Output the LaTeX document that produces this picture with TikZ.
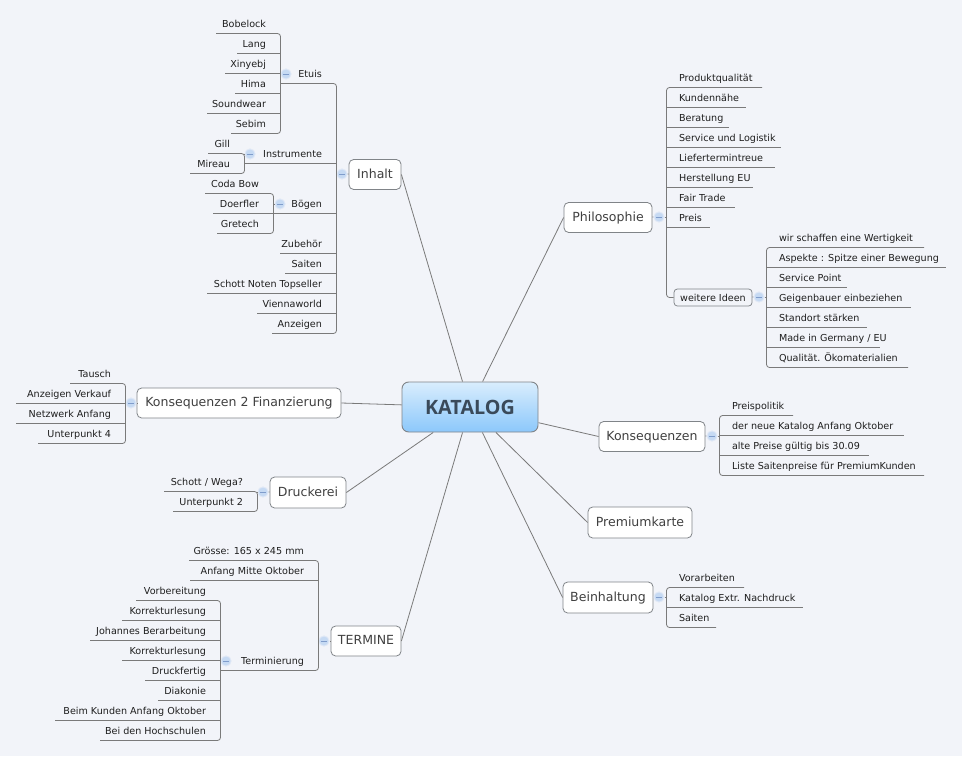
\documentclass[tikz,border=0pt]{standalone}
\usepackage{fontspec}
\setmainfont{DejaVu Sans}
\newfontfamily\capfont{Open Sans}
\definecolor{bgc}{HTML}{F2F4F9}
\definecolor{linec}{HTML}{7A7A7A}
\definecolor{txtc}{HTML}{1E1E1E}
\definecolor{boxc}{HTML}{808488}
\definecolor{icf}{HTML}{C6DAF3}
\definecolor{icr}{HTML}{DFE8F6}
\definecolor{icm}{HTML}{7F9CCB}
\definecolor{CentralTop}{HTML}{D9EDFD}
\definecolor{CentralBottom}{HTML}{8CC8FB}
\definecolor{CentralText}{HTML}{3A4A5A}
\newcommand\pxx[1]{#1*0.75pt}
\tikzset{
  conn/.style={draw=linec,line width=0.6pt,rounded corners=2.25pt},
  spoke/.style={draw=linec,line width=0.6pt},
  leaf/.style={font=\fontsize{7.2}{9}\selectfont,text=txtc,inner sep=0pt,outer sep=0pt},
  topic/.style={draw=boxc,line width=0.6pt,fill=white,rounded corners=3.5pt,font=\fontsize{9.4}{11}\selectfont,text=txtc!85!white,inner sep=0pt,text height=0.74em,text depth=0.2em},
  subtopic/.style={draw=boxc,line width=0.55pt,fill=bgc,rounded corners=2.5pt,font=\fontsize{7.2}{9}\selectfont,text=txtc,inner sep=0pt},
  central/.style={draw=boxc,line width=0.7pt,top color=CentralTop,bottom color=CentralBottom,rounded corners=5pt,font=\capfont\fontsize{14.8}{16}\bfseries\selectfont,text=CentralText,inner sep=0pt},
  icon/.style={circle,minimum size=7.6pt,inner sep=0pt,fill=icf,draw=icr,line width=0.7pt,
    path picture={\draw[icm,line width=0.4pt,shorten <=1.9pt,shorten >=1.9pt] (path picture bounding box.west) -- (path picture bounding box.east);}},
}
% icon name, icon x, y, spine name, spine x
\newcommand\iconat[5]{%
  \node[icon] (#1) at (#2,#3) {};
  \coordinate (#4) at ({#5+0.5},#3);
  \draw[conn] (#1) -- (#4);}
% id, text, spine, underline y, underline far x
\newcommand\leafl[5]{%
  \coordinate (#1u) at (#5,{#4+0.5});
  \node[leaf,anchor=mid east,xshift=-10.9pt,yshift=7.1pt] (#1) at (#3 |- #1u) {#2};}
\newcommand\leafr[5]{%
  \coordinate (#1u) at (#5,{#4+0.5});
  \node[leaf,anchor=mid west,xshift=9.4pt,yshift=7.1pt] (#1) at (#3 |- #1u) {#2};}
% spine, first leaf, last leaf, inner leaves
\newcommand\trunk[4]{%
  \draw[conn] (#2u) -- (#1 |- #2u) -- (#1 |- #3u) -- (#3u);
  \foreach \lf in {#4} {\draw[conn] (#1 |- \lf u) -- (\lf u);}}
\begin{document}
\begin{tikzpicture}[x=0.75pt,y=-0.75pt]
\useasboundingbox[fill=bgc] (0,0) rectangle (962,756);

% central and main topics
\node[central,minimum width=\pxx{136},minimum height=\pxx{50}] (cen) at (470,407) {KATALOG};
\node[topic,minimum width=\pxx{52},minimum height=\pxx{30}] (inh) at (375,174.5) {Inhalt};
\node[topic,minimum width=\pxx{88},minimum height=\pxx{30}] (phi) at (608,217.5) {Philosophie};
\node[topic,minimum width=\pxx{106},minimum height=\pxx{30}] (kon) at (652,436.5) {Konsequenzen};
\node[topic,minimum width=\pxx{104},minimum height=\pxx{31}] (pre) at (640,522.5) {Premiumkarte};
\node[topic,minimum width=\pxx{90},minimum height=\pxx{31}] (bei) at (608,597.5) {Beinhaltung};
\node[topic,minimum width=\pxx{70},minimum height=\pxx{30}] (ter) at (366,641) {TERMINE};
\node[topic,minimum width=\pxx{76},minimum height=\pxx{31}] (dru) at (308,492.5) {Druckerei};
\node[topic,minimum width=\pxx{204},minimum height=\pxx{30}] (fin) at (239,403) {Konsequenzen 2 Finanzierung};

\draw[spoke] (cen) -- (inh.east);
\draw[spoke] (cen) -- (phi.west);
\draw[spoke] (cen) -- (kon.west);
\draw[spoke] (cen) -- (pre.west);
\draw[spoke] (cen) -- (bei.west);
\draw[spoke] (cen) -- (ter.east);
\draw[spoke] (cen) -- (dru.east);
\draw[spoke] (cen) -- (fin.east);

% collapse icons and spine points of the main topics
\iconat{iInh}{342}{174}{sInh}{336}
\iconat{iPhi}{659}{217}{sPhi}{666}
\iconat{iKon}{712}{436}{sKon}{719}
\iconat{iBei}{659}{597}{sBei}{666}
\iconat{iFin}{131}{403}{sFin}{125}
\iconat{iDru}{263}{492}{sDru}{257}
\iconat{iTer}{324}{641}{sTer}{318}
\draw[conn] (inh) -- (iInh);
\draw[conn] (phi) -- (iPhi);
\draw[conn] (kon) -- (iKon);
\draw[conn] (bei) -- (iBei);
\draw[conn] (fin) -- (iFin);
\draw[conn] (dru) -- (iDru);
\draw[conn] (ter) -- (iTer);

% Inhalt
\leafl{et}{Etuis}{sInh}{83}{281}
\leafl{ins}{Instrumente}{sInh}{163}{245}
\leafl{boe}{Bögen}{sInh}{213}{274}
\leafl{zub}{Zubehör}{sInh}{253}{280}
\leafl{sai}{Saiten}{sInh}{273}{285}
\leafl{sch}{Schott Noten Topseller}{sInh}{293}{207}
\leafl{vie}{Viennaworld}{sInh}{313}{257}
\leafl{anz}{Anzeigen}{sInh}{333}{272}
\trunk{sInh}{et}{anz}{ins,boe,zub,sai,sch,vie}

\iconat{iEt}{286}{74}{sEt}{280}
\leafl{bob}{Bobelock}{sEt}{33}{216}
\leafl{lan}{Lang}{sEt}{53}{237}
\leafl{xin}{Xinyebj}{sEt}{73}{225}
\leafl{him}{Hima}{sEt}{93}{235}
\leafl{sou}{Soundwear}{sEt}{113}{207}
\leafl{seb}{Sebim}{sEt}{133}{231}
\trunk{sEt}{bob}{seb}{lan,xin,him,sou}

\iconat{iIns}{250}{154}{sIns}{244}
\leafl{gil}{Gill}{sIns}{153}{208}
\leafl{mir}{Mireau}{sIns}{173}{190}
\trunk{sIns}{gil}{mir}{}

\iconat{iBoe}{280}{204}{sBoe}{273}
\leafl{cod}{Coda Bow}{sBoe}{193}{205}
\leafl{doe}{Doerfler}{sBoe}{213}{213}
\leafl{gre}{Gretech}{sBoe}{233}{217}
\trunk{sBoe}{cod}{gre}{doe}

% Philosophie
\leafr{p1}{Produktqualität}{sPhi}{87}{762}
\leafr{p2}{Kundennähe}{sPhi}{107}{746}
\leafr{p3}{Beratung}{sPhi}{127}{729}
\leafr{p4}{Service und Logistik}{sPhi}{147}{781}
\leafr{p5}{Liefertermintreue}{sPhi}{167}{775}
\leafr{p6}{Herstellung EU}{sPhi}{187}{753}
\leafr{p7}{Fair Trade}{sPhi}{207}{735}
\leafr{p8}{Preis}{sPhi}{227}{710}
\node[subtopic,minimum width=\pxx{78},minimum height=\pxx{17}] (wei) at (713,297.5) {weitere Ideen};
\coordinate (weiu) at (wei.west);
\trunk{sPhi}{p1}{wei}{p2,p3,p4,p5,p6,p7,p8}

\iconat{iWei}{759}{297}{sWei}{766}
\draw[conn] (wei) -- (iWei);
\leafr{w1}{wir schaffen eine Wertigkeit}{sWei}{247}{924}
\leafr{w2}{Aspekte : Spitze einer Bewegung}{sWei}{267}{946}
\leafr{w3}{Service Point}{sWei}{287}{847}
\leafr{w4}{Geigenbauer einbeziehen}{sWei}{307}{911}
\leafr{w5}{Standort stärken}{sWei}{327}{867}
\leafr{w6}{Made in Germany / EU}{sWei}{347}{880}
\leafr{w7}{Qualität. Ökomaterialien}{sWei}{367}{908}
\trunk{sWei}{w1}{w7}{w2,w3,w4,w5,w6}

% Konsequenzen
\leafr{k1}{Preispolitik}{sKon}{415}{793}
\leafr{k2}{der neue Katalog Anfang Oktober}{sKon}{435}{904}
\leafr{k3}{alte Preise gültig bis 30.09}{sKon}{455}{869}
\leafr{k4}{Liste Saitenpreise für PremiumKunden}{sKon}{475}{924}
\trunk{sKon}{k1}{k4}{k2,k3}

% Beinhaltung
\leafr{b1}{Vorarbeiten}{sBei}{587}{744}
\leafr{b2}{Katalog Extr. Nachdruck}{sBei}{607}{803}
\leafr{b3}{Saiten}{sBei}{627}{716}
\trunk{sBei}{b1}{b3}{b2}

% Konsequenzen 2 Finanzierung
\leafl{f1}{Tausch}{sFin}{383}{70}
\leafl{f2}{Anzeigen Verkauf}{sFin}{403}{16}
\leafl{f3}{Netzwerk Anfang}{sFin}{423}{16}
\leafl{f4}{Unterpunkt 4}{sFin}{443}{38}
\trunk{sFin}{f1}{f4}{f2,f3}

% Druckerei
\leafl{d1}{Schott / Wega?}{sDru}{491}{164}
\leafl{d2}{Unterpunkt 2}{sDru}{511}{173}
\trunk{sDru}{d1}{d2}{}

% TERMINE
\leafl{t1}{Grösse: 165 x 245 mm}{sTer}{560}{189}
\leafl{t2}{Anfang Mitte Oktober}{sTer}{580}{190}
\leafl{t3}{Terminierung}{sTer}{670}{220}
\trunk{sTer}{t1}{t3}{t2}

\iconat{iTm}{226}{661}{sTm}{220}
\leafl{m1}{Vorbereitung}{sTm}{600}{136}
\leafl{m2}{Korrekturlesung}{sTm}{620}{122}
\leafl{m3}{Johannes Berarbeitung}{sTm}{640}{90}
\leafl{m4}{Korrekturlesung}{sTm}{660}{122}
\leafl{m5}{Druckfertig}{sTm}{680}{145}
\leafl{m6}{Diakonie}{sTm}{700}{158}
\leafl{m7}{Beim Kunden Anfang Oktober}{sTm}{720}{55}
\leafl{m8}{Bei den Hochschulen}{sTm}{740}{100}
\trunk{sTm}{m1}{m8}{m2,m3,m4,m5,m6,m7}
\end{tikzpicture}
\end{document}
